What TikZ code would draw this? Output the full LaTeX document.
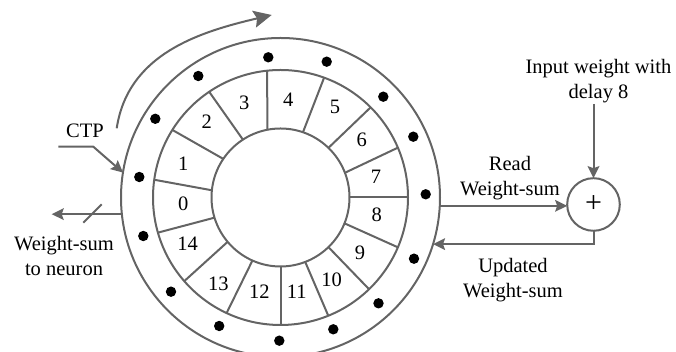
\documentclass[tikz,border=0pt]{standalone}
\usepackage{fontspec}
\setmainfont{Liberation Serif}
\usetikzlibrary{arrows.meta}
\definecolor{lgray}{RGB}{100,100,100}
\tikzset{
  ln/.style={draw=lgray, line width=1pt},
  ring/.style={ln, circle, inner sep=0pt, outer sep=0pt},
  arr/.style={ln, -{Stealth[length=6pt,width=5.8pt,inset=1pt]}},
  bigarr/.style={ln, -{Stealth[length=9pt,width=8.5pt,inset=1.5pt]}},
  txt/.style={font=\fontsize{10.25}{12.5}\selectfont, text=black, inner sep=0.5pt, align=center},
  num/.style={font=\fontsize{10.25}{12.5}\selectfont, text=black, inner sep=0pt},
  dotmark/.style={fill=black}
}
\begin{document}
\begin{tikzpicture}[x=0.5pt,y=0.5pt]
\useasboundingbox (0,0) rectangle (676,352);
\coordinate (C) at (280.5,154.5);
% rings
\node[ring, minimum size=159.5pt] (outer) at (C) {};
\node[ring, minimum size=127.5pt] (mid) at (C) {};
\node[ring, minimum size=69pt] (inner) at (C) {};
% segment boundaries
\foreach \a/\b in {0/0, 21/23, 46/45, 71/70, 101/96, 123/124, 146/148, 174/172, 197/196, 220/221, 246/245, 270/270, 291/292, 314/314, 338/337}
  \draw[ln] (inner.\a) -- (mid.\b);
% segment numbers
\node[num] (s0) at (183.3,148) {0};
\node[num] (s1) at (183.3,188.7) {1};
\node[num] (s2) at (206.7,230.3) {2};
\node[num] (s3) at (244.3,249.3) {3};
\node[num] (s4) at (288.3,252.7) {4};
\node[num] (s5) at (335,245.3) {5};
\node[num] (s6) at (361.7,212) {6};
\node[num] (s7) at (376,175.3) {7};
\node[num] (s8) at (376.7,137) {8};
\node[num] (s9) at (360,98.7) {9};
\node[num] (s10) at (331.7,72) {10};
\node[num] (s11) at (296.7,60.3) {11};
\node[num] (s12) at (259.3,60.3) {12};
\node[num] (s13) at (218.3,67.7) {13};
\node[num] (s14) at (187.7,108) {14};
% dots
\foreach \p in {(268.3,294.7),(326.7,290.3),(383.3,255.3),(413.3,215.3),(425.7,157.7),(414,93.3),(378.5,48.7),(333.3,22.7),(279.3,11.3),(219.2,26),(171,60.3),(143.3,116),(139.3,175),(155.3,233.2),(198.3,276)}
  \fill[dotmark] \p circle[radius=2.6pt];
% rotation arrow
\coordinate (rot0) at (116.7,223.7);
\coordinate (rot1) at (271.7,337);
\draw[bigarr] (rot0) .. controls (128,298) and (199,320) .. (rot1);
% CTP
\node[txt] (ctp) at (85,221.3) {CTP};
\coordinate (ctpa) at (58.3,205.3);
\coordinate (ctpb) at (93.3,205.3);
\draw[arr] (ctpa) -- (ctpb) -- (outer.171);
% weight-sum to neuron
\coordinate (wsend) at (51.7,137.8);
\draw[arr] (outer.186) -- (outer.186 -| wsend);
\coordinate (sl0) at (83.3,129.3);
\coordinate (sl1) at (101.7,147.7);
\draw[ln] (sl0) -- (sl1);
\node[txt] (wsn) at (64,96.5) {Weight-sum\\to neuron};
% adder
\node[ring, minimum size=26.3pt] (sum) at (593.5,147.5) {\fontsize{15}{15}\selectfont +};
\node[txt] (inp) at (598.5,271.3) {Input weight with\\delay 8};
\draw[arr] (inp.south -| sum.north) -- (sum.north);
\draw[arr] (outer.-3) -- (outer.-3 -| sum.west);
\node[txt] (rd) at (510,174.2) {Read\\Weight-sum};
\draw[arr] (sum.south) |- (outer.-17);
\node[txt] (upd) at (513,72) {Updated\\Weight-sum};
\end{tikzpicture}
\end{document}
